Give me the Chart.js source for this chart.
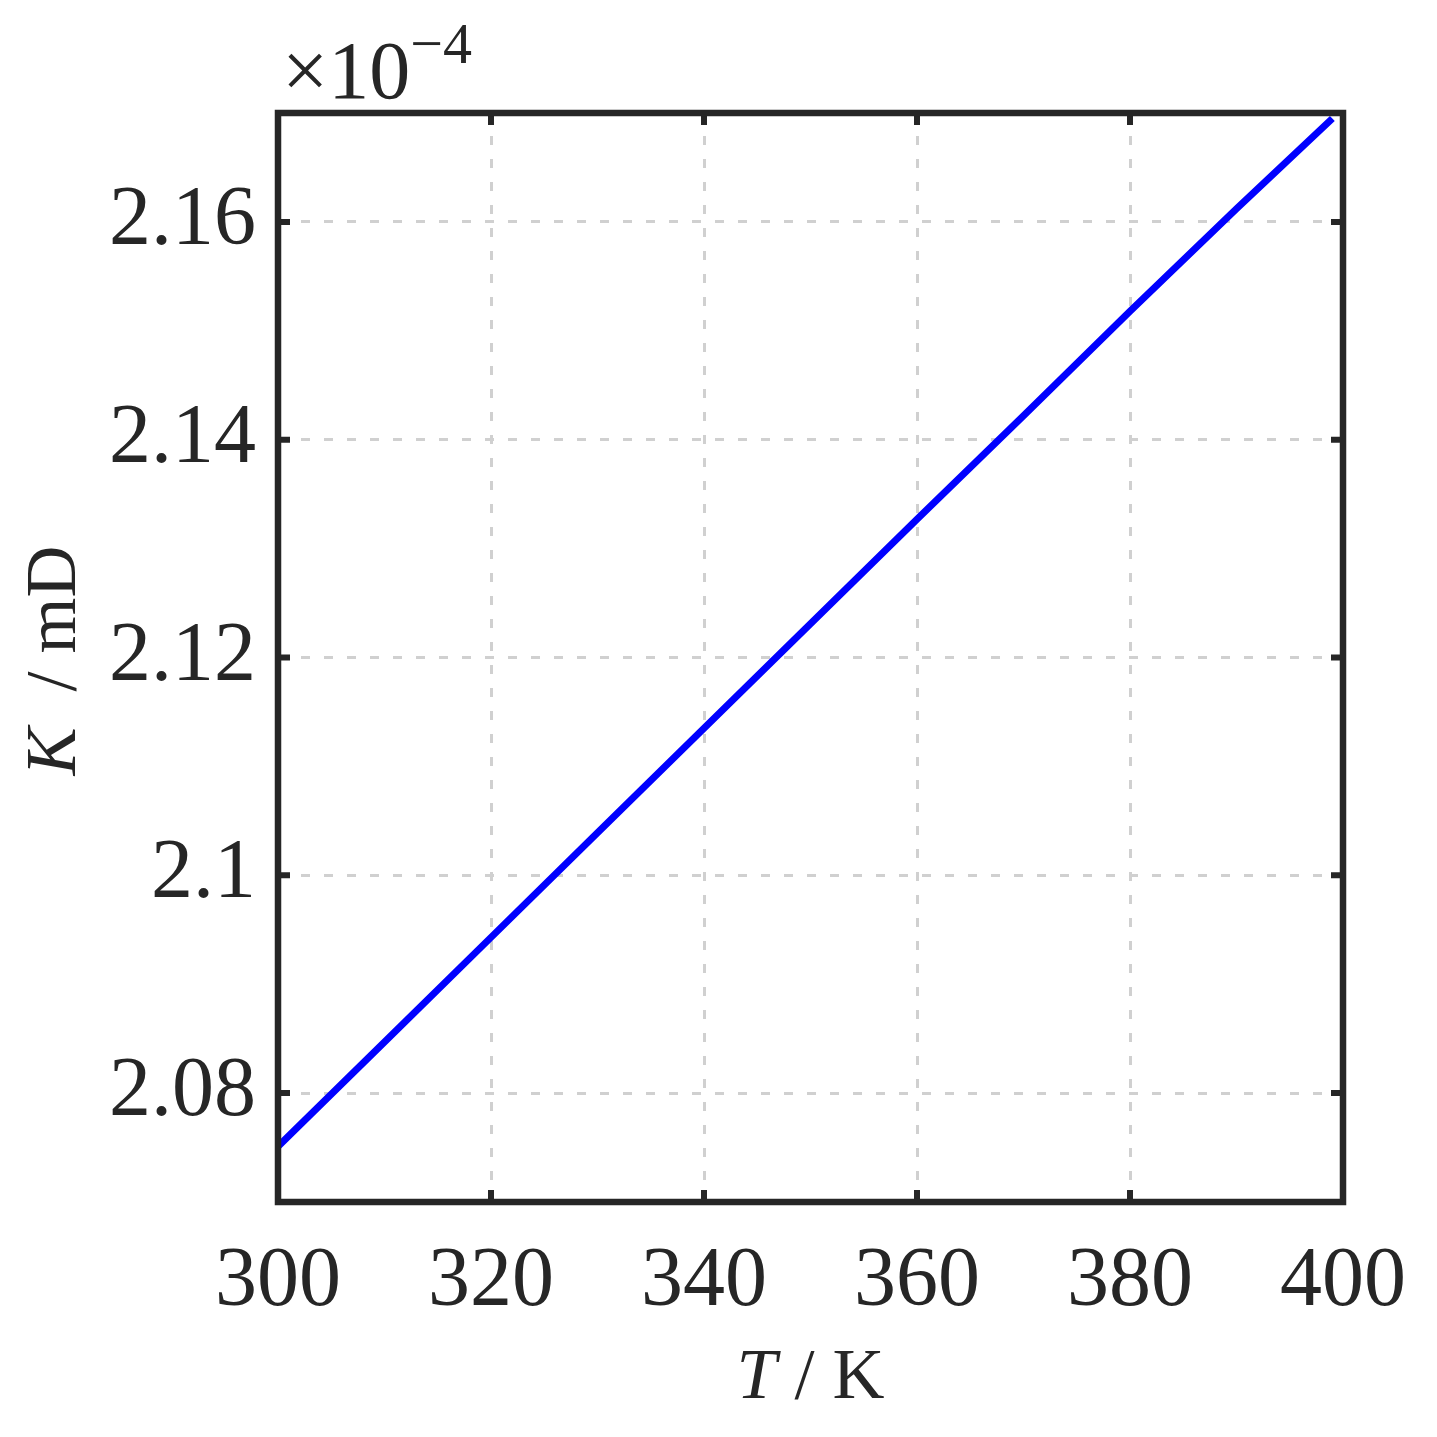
<!DOCTYPE html>
<html><head><meta charset="utf-8">
<script src="https://cdn.jsdelivr.net/npm/chart.js@4"></script>
<style>html,body{margin:0;padding:0;background:#fff;overflow:hidden;}</style>
</head><body>
<canvas id="c" width="1437" height="1437"></canvas>
<script>
// ---- data ----
const temperatures = [300, 310, 320, 330, 340, 350, 360, 370, 380, 390, 399];
const permeability = [2.0751, 2.0847, 2.0943, 2.1039, 2.1135, 2.1231, 2.1327, 2.1422, 2.1518, 2.1612, 2.1695];
const xTicks = [300, 320, 340, 360, 380, 400];
const yTicks = [2.08, 2.10, 2.12, 2.14, 2.16];
const yTickLabels = ['2.08', '2.1', '2.12', '2.14', '2.16'];
const xRange = [300, 400];
const yRange = [2.07, 2.17];
const exponentBase = '\u00d710';
const exponentPower = '\u22124';
const yTitleItalic = 'K', yTitleRest = '  / mD';
const xTitleItalic = 'T', xTitleRest = ' / K';

const INK = '#262626';
const SERIF = '"Liberation Serif", "DejaVu Serif", serif';

const framePlugin = {
  id: 'frame',
  afterDraw(chart) {
    const ctx = chart.ctx, a = chart.chartArea;
    const xs = chart.scales.x, ys = chart.scales.y;
    ctx.save();
    // inward ticks
    ctx.strokeStyle = INK; ctx.lineWidth = 6; ctx.lineCap = 'butt';
    const tl = 12;
    xs.ticks.forEach(t => {
      const px = xs.getPixelForValue(t.value);
      ctx.beginPath();
      ctx.moveTo(px, a.bottom); ctx.lineTo(px, a.bottom - tl);
      ctx.moveTo(px, a.top); ctx.lineTo(px, a.top + tl);
      ctx.stroke();
    });
    ys.ticks.forEach(t => {
      const py = ys.getPixelForValue(t.value);
      ctx.beginPath();
      ctx.moveTo(a.left, py); ctx.lineTo(a.left + tl, py);
      ctx.moveTo(a.right, py); ctx.lineTo(a.right - tl, py);
      ctx.stroke();
    });
    // frame
    ctx.lineWidth = 6.5; ctx.lineJoin = 'miter';
    ctx.strokeRect(a.left, a.top, a.right - a.left, a.bottom - a.top);

    ctx.fillStyle = INK;
    ctx.textBaseline = 'alphabetic';
    // x title
    ctx.font = 'italic 72px ' + SERIF;
    const wTi = ctx.measureText(xTitleItalic).width;
    ctx.font = '72px ' + SERIF;
    const wTr = ctx.measureText(xTitleRest).width;
    const cx = (a.left + a.right) / 2;
    let x0 = cx - (wTi + wTr) / 2;
    const yb = a.bottom + 196;
    ctx.font = 'italic 72px ' + SERIF; ctx.textAlign = 'left';
    ctx.fillText(xTitleItalic, x0, yb);
    ctx.font = '72px ' + SERIF;
    ctx.fillText(xTitleRest, x0 + wTi, yb);

    // y title (rotated)
    ctx.save();
    const cy = (a.top + a.bottom) / 2;
    ctx.translate(75, cy + 3);
    ctx.rotate(-Math.PI / 2);
    ctx.font = 'italic 72px ' + SERIF;
    const wKi = ctx.measureText(yTitleItalic).width;
    ctx.font = '72px ' + SERIF;
    const wKr = ctx.measureText(yTitleRest).width;
    let s0 = -(wKi + wKr) / 2;
    ctx.font = 'italic 72px ' + SERIF;
    ctx.fillText(yTitleItalic, s0, 0);
    ctx.font = '72px ' + SERIF;
    ctx.fillText(yTitleRest, s0 + wKi, 0);
    ctx.restore();

    // exponent label
    ctx.font = '82px ' + SERIF;
    ctx.textAlign = 'left';
    ctx.fillText(exponentBase, a.left + 4, a.top - 15);
    const wb = ctx.measureText(exponentBase).width;
    ctx.font = '58px ' + SERIF;
    ctx.fillText(exponentPower, a.left + 4 + wb, a.top - 50);
    ctx.restore();
  }
};

new Chart(document.getElementById('c'), {
  type: 'line',
  data: {
    datasets: [{
      data: temperatures.map((t, i) => ({ x: t, y: permeability[i] })),
      borderColor: '#0000ff',
      borderWidth: 7,
      pointRadius: 0,
      fill: false,
      tension: 0
    }]
  },
  options: {
    responsive: false,
    animation: false,
    devicePixelRatio: 1,
    layout: { padding: { top: 113, right: 92, left: 0, bottom: 0 } },
    plugins: { legend: { display: false }, tooltip: { enabled: false }, title: { display: false } },
    scales: {
      x: {
        type: 'linear',
        min: xRange[0], max: xRange[1],
        afterBuildTicks: s => { s.ticks = xTicks.map(v => ({ value: v })); },
        afterFit: s => { s.height = 235; },
        grid: { color: '#d0d0d0', lineWidth: 3, drawTicks: false, tickLength: 0 },
        border: { display: false, dash: [9, 14] },
        ticks: { color: INK, font: { family: SERIF, size: 84 }, padding: 31, maxRotation: 0, autoSkip: false,
          callback: v => String(v) }
      },
      y: {
        type: 'linear',
        min: yRange[0], max: yRange[1],
        afterBuildTicks: s => { s.ticks = yTicks.map(v => ({ value: v })); },
        afterFit: s => { s.width = 278; },
        grid: { color: '#d0d0d0', lineWidth: 3, drawTicks: false, tickLength: 0 },
        border: { display: false, dash: [9, 14] },
        ticks: { color: INK, font: { family: SERIF, size: 84 }, padding: 22, autoSkip: false,
          callback: (v, i) => yTickLabels[yTicks.indexOf(Math.round(v * 100) / 100)] ?? '' }
      }
    }
  },
  plugins: [framePlugin]
});
</script>
</body></html>
